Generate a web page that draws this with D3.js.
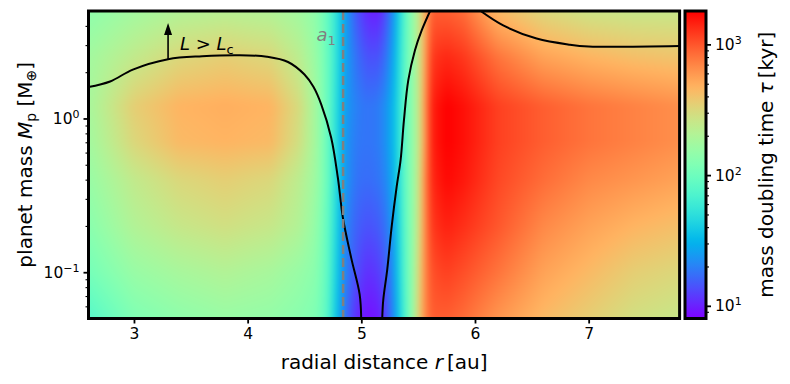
<!DOCTYPE html>
<html>
<head>
<meta charset="utf-8">
<script src="https://cdn.jsdelivr.net/npm/d3@7"></script>
<style>
  body { margin: 0; background: #fff; }
  svg { display: block; font-family: "DejaVu Sans", sans-serif; }
</style>
</head>
<body>
<div id="chart"></div>
<script>
// grid: radial distance [au], planet mass [M_earth], doubling time [kyr]
var radii = [2.6, 3.0, 3.4, 3.8, 4.2, 4.45, 4.6, 4.7, 4.78, 4.86, 4.95, 5.05, 5.15, 5.23, 5.3, 5.37, 5.44, 5.5, 5.56, 5.62, 5.75, 5.9, 6.2, 6.6, 7.0, 7.4, 7.8];
var masses = [0.05, 0.1, 0.2, 0.4, 0.7, 1.2, 2.5, 5];
var tauGrid = [
  [78, 120, 141, 157, 149, 134, 120, 82, 36, 18, 11, 8.9, 9.4, 14, 26, 63, 134, 318, 679, 939, 939, 843, 609, 440, 354, 285, 256],
  [108, 157, 185, 206, 185, 157, 134, 87, 41, 20, 14, 11, 12, 16, 29, 70, 134, 285, 679, 1046, 1166, 1046, 798, 546, 440, 354, 318],
  [134, 206, 256, 285, 256, 206, 149, 91, 45, 21, 16, 14, 15, 19, 31, 74, 134, 256, 679, 1230, 1448, 1299, 991, 679, 546, 464, 417],
  [157, 243, 318, 354, 318, 230, 166, 97, 48, 24, 18, 17, 18, 22, 35, 78, 134, 243, 679, 1371, 1703, 1528, 1104, 843, 679, 609, 546],
  [175, 318, 440, 464, 440, 285, 175, 97, 48, 24, 19, 18, 19, 24, 37, 78, 134, 230, 609, 1448, 1800, 1613, 1166, 939, 798, 716, 643],
  [185, 354, 464, 490, 464, 301, 175, 97, 50, 25, 20, 18, 19, 24, 37, 78, 134, 230, 609, 1448, 1800, 1613, 1166, 939, 798, 716, 643],
  [175, 243, 318, 354, 318, 230, 157, 97, 53, 26, 18, 14, 14, 19, 33, 74, 134, 230, 546, 1230, 1371, 1230, 798, 546, 464, 417, 394],
  [141, 175, 206, 218, 206, 175, 141, 91, 53, 26, 15, 10.5, 9.9, 15, 29, 70, 134, 230, 490, 939, 939, 843, 440, 318, 270, 256, 256]
];

// L = Lc contour pieces [r, Mp]
var contourLeft = [[2.6, 1.6], [2.79, 1.74], [2.99, 2.08], [3.3, 2.43], [3.6, 2.54], [3.93, 2.58], [4.17, 2.52], [4.355, 2.33],
  [4.5, 1.93], [4.58, 1.6], [4.648, 1.23], [4.735, 0.75], [4.794, 0.41], [4.838, 0.226], [4.911, 0.124], [4.985, 0.072], [4.999, 0.05]];
var contourRight = [[5.184, 0.05], [5.193, 0.066], [5.228, 0.104], [5.267, 0.198], [5.311, 0.36], [5.346, 0.54], [5.375, 0.975],
  [5.413, 1.77], [5.472, 2.78], [5.531, 3.74], [5.605, 5]];
var contourTop = [[6.05, 5], [6.248, 4.03], [6.542, 3.31], [6.835, 3.02], [7.0, 2.94], [7.8, 2.96]];

var a1 = 4.84;
var xTicks = [3, 4, 5, 6, 7];
var yTicks = [0.1, 1];
var yMinor = [0.06, 0.07, 0.08, 0.09, 0.2, 0.3, 0.4, 0.5, 0.6, 0.7, 0.8, 0.9, 2, 3, 4];
var cTicks = [10, 100, 1000];
var cMinor = [9, 20, 30, 40, 50, 60, 70, 80, 90, 200, 300, 400, 500, 600, 700, 800, 900];


// matplotlib "rainbow"
function rainbow(t) {
  var r = Math.min(1, Math.abs(2 * t - 0.5));
  var g = Math.sin(Math.PI * t);
  var b = Math.max(0, Math.cos(Math.PI * t / 2));
  return d3.rgb(255 * r, 255 * g, 255 * b).toString();
}

var plot = { left: 88.5, right: 679.6, top: 11, bottom: 318.5 };
var cbar = { left: 685, right: 706 };

var x = d3.scaleLinear().domain([2.6, 7.8]).range([plot.left, plot.right]);
var y = d3.scaleLog().domain([0.05, 5]).range([plot.bottom, plot.top]);
var cy = d3.scaleLog().domain([8, 1800]).range([plot.bottom, plot.top]);
var color = d3.scaleSequentialLog(rainbow).domain([8, 1800]).clamp(true);

var svg = d3.select('#chart')
  .append('svg')
  .attr('width', 790)
  .attr('height', 384);

var defs = svg.append('defs');
defs.append('clipPath').attr('id', 'plotClip')
  .append('rect')
  .attr('x', plot.left).attr('y', plot.top)
  .attr('width', plot.right - plot.left).attr('height', plot.bottom - plot.top);


// Heatmap - bilinear in (r, log M, log tau), softened with a small blur
var logM = masses.map(Math.log10);
var logTau = tauGrid.map(function (row) { return row.map(Math.log10); });

function sample(r, lm) {
  var i = Math.max(0, Math.min(radii.length - 2, d3.bisectRight(radii, r) - 1));
  var j = Math.max(0, Math.min(logM.length - 2, d3.bisectRight(logM, lm) - 1));
  var fx = Math.max(0, Math.min(1, (r - radii[i]) / (radii[i + 1] - radii[i])));
  var fy = Math.max(0, Math.min(1, (lm - logM[j]) / (logM[j + 1] - logM[j])));
  var lo = logTau[j][i] * (1 - fx) + logTau[j][i + 1] * fx;
  var hi = logTau[j + 1][i] * (1 - fx) + logTau[j + 1][i + 1] * fx;
  return Math.pow(10, lo * (1 - fy) + hi * fy);
}

var cw = Math.round(plot.right - plot.left), ch = Math.round(plot.bottom - plot.top);
var pad = 12;
var raw = document.createElement('canvas');
raw.width = cw + 2 * pad; raw.height = ch + 2 * pad;
var rctx = raw.getContext('2d');
var img = rctx.createImageData(raw.width, raw.height);
for (var py = 0; py < raw.height; py++) {
  var yy = Math.max(plot.top, Math.min(plot.bottom, plot.top + (py - pad + 0.5) * (plot.bottom - plot.top) / ch));
  var lm = Math.log10(y.invert(yy));
  for (var px = 0; px < raw.width; px++) {
    var xx = Math.max(plot.left, Math.min(plot.right, plot.left + (px - pad + 0.5) * (plot.right - plot.left) / cw));
    var c = d3.rgb(color(sample(x.invert(xx), lm)));
    var k = (py * raw.width + px) * 4;
    img.data[k] = c.r; img.data[k + 1] = c.g; img.data[k + 2] = c.b; img.data[k + 3] = 255;
  }
}
rctx.putImageData(img, 0, 0);

var canvas = document.createElement('canvas');
canvas.width = cw; canvas.height = ch;
var ctx = canvas.getContext('2d');
ctx.filter = 'blur(3px)';
ctx.drawImage(raw, -pad, -pad);

svg.append('image')
  .attr('x', plot.left).attr('y', plot.top)
  .attr('width', plot.right - plot.left).attr('height', plot.bottom - plot.top)
  .attr('preserveAspectRatio', 'none')
  .attr('href', canvas.toDataURL());


// Contours, a1 line, annotation
var gPlot = svg.append('g').attr('clip-path', 'url(#plotClip)');
var line = d3.line()
  .x(function (d) { return x(d[0]); })
  .y(function (d) { return y(d[1]); })
  .curve(d3.curveCatmullRom.alpha(0.5));

gPlot.selectAll('path.contour')
  .data([contourLeft, contourRight, contourTop])
  .enter()
  .append('path')
  .attr('class', 'contour')
  .attr('d', line)
  .attr('fill', 'none')
  .attr('stroke', '#000')
  .attr('stroke-width', 2);

gPlot.append('line')
  .attr('x1', x(a1)).attr('x2', x(a1))
  .attr('y1', plot.top).attr('y2', plot.bottom)
  .attr('stroke', '#808080')
  .attr('stroke-width', 2.5)
  .attr('stroke-dasharray', '9,4');

var a1Text = svg.append('text')
  .attr('x', x(4.775)).attr('y', y(3.2))
  .attr('text-anchor', 'end')
  .style('font-size', '18px')
  .attr('fill', '#808080');
a1Text.append('tspan').style('font-style', 'italic').text('a');
a1Text.append('tspan').attr('dy', 4).style('font-size', '13px').text('1');

// arrow L > Lc
var arrowX = x(3.3);
svg.append('line')
  .attr('x1', arrowX).attr('x2', arrowX)
  .attr('y1', y(2.43)).attr('y2', y(4.18) + 11)
  .attr('stroke', '#000').attr('stroke-width', 1.6);
svg.append('path')
  .attr('d', 'M' + (arrowX - 4) + ',' + (y(4.18) + 12) + 'L' + arrowX + ',' + y(4.18) + 'L' + (arrowX + 4) + ',' + (y(4.18) + 12) + 'Z')
  .attr('fill', '#000');

var lText = svg.append('text')
  .attr('x', x(3.405)).attr('y', y(2.78))
  .style('font-size', '18px');
lText.append('tspan').style('font-style', 'italic').text('L');
lText.append('tspan').text(' > ');
lText.append('tspan').style('font-style', 'italic').text('L');
lText.append('tspan').attr('dy', 4).style('font-size', '13px').text('c');


// Frame
svg.append('rect')
  .attr('x', plot.left).attr('y', plot.top)
  .attr('width', plot.right - plot.left).attr('height', plot.bottom - plot.top)
  .attr('fill', 'none').attr('stroke', '#000').attr('stroke-width', 3);


// Axes
function supLabel(sel) {
  sel.each(function (d) {
    var e = Math.round(Math.log10(d));
    var t = d3.select(this).text('');
    t.append('tspan').text('10');
    t.append('tspan').attr('dy', '-0.55em').style('font-size', '11px').text(e < 0 ? '\u2212' + (-e) : e);
  });
}

function styleAxis(g, width) {
  g.select('.domain').remove();
  g.selectAll('.tick line').attr('stroke', '#000').attr('stroke-width', width);
  g.selectAll('.tick text').attr('fill', '#000').style('font-size', '15.5px').style('font-family', '"DejaVu Sans", sans-serif');
}

var gx = svg.append('g')
  .attr('transform', 'translate(0,' + plot.bottom + ')')
  .call(d3.axisBottom(x).tickValues(xTicks).tickSize(5).tickPadding(4).tickFormat(d3.format('d')));
styleAxis(gx, 1.8);

var gy = svg.append('g')
  .attr('transform', 'translate(' + plot.left + ',0)')
  .call(d3.axisLeft(y).tickValues(yTicks).tickSize(5).tickPadding(4));
styleAxis(gy, 1.8);
gy.selectAll('.tick text').call(supLabel);

var gyMinor = svg.append('g')
  .attr('transform', 'translate(' + plot.left + ',0)')
  .call(d3.axisLeft(y).tickValues(yMinor).tickSize(3).tickFormat(''));
styleAxis(gyMinor, 1.1);


// Colorbar
var grad = defs.append('linearGradient')
  .attr('id', 'cbarGrad')
  .attr('x1', 0).attr('y1', 1).attr('x2', 0).attr('y2', 0);
grad.selectAll('stop')
  .data(d3.range(0, 1.0001, 0.02))
  .enter()
  .append('stop')
  .attr('offset', function (d) { return d; })
  .attr('stop-color', function (d) { return rainbow(d); });

svg.append('rect')
  .attr('x', cbar.left).attr('y', plot.top)
  .attr('width', cbar.right - cbar.left).attr('height', plot.bottom - plot.top)
  .attr('fill', 'url(#cbarGrad)')
  .attr('stroke', '#000').attr('stroke-width', 3);

var gc = svg.append('g')
  .attr('transform', 'translate(' + cbar.right + ',0)')
  .call(d3.axisRight(cy).tickValues(cTicks).tickSize(5).tickPadding(4));
styleAxis(gc, 1.8);
gc.selectAll('.tick text').call(supLabel);

var gcMinor = svg.append('g')
  .attr('transform', 'translate(' + cbar.right + ',0)')
  .call(d3.axisRight(cy).tickValues(cMinor).tickSize(3).tickFormat(''));
styleAxis(gcMinor, 1.1);


// Axis labels
var xLabel = svg.append('text')
  .attr('x', (plot.left + plot.right) / 2).attr('y', 369)
  .attr('text-anchor', 'middle')
  .style('font-size', '20px');
xLabel.append('tspan').text('radial distance ');
xLabel.append('tspan').style('font-style', 'italic').text('r');
xLabel.append('tspan').text('\u2009[au]');

var yLabel = svg.append('text')
  .attr('transform', 'translate(32,' + (plot.top + plot.bottom) / 2 + ') rotate(-90)')
  .attr('text-anchor', 'middle')
  .style('font-size', '20px');
yLabel.append('tspan').text('planet mass ');
yLabel.append('tspan').style('font-style', 'italic').text('M');
yLabel.append('tspan').attr('dy', 4).style('font-size', '14px').text('p');
yLabel.append('tspan').attr('dy', -4).text(' [M');
yLabel.append('tspan').attr('dy', 4).style('font-size', '14px').text('\u2295');
yLabel.append('tspan').attr('dy', -4).text(']');

var cLabel = svg.append('text')
  .attr('transform', 'translate(773,' + (plot.top + plot.bottom) / 2 + ') rotate(-90)')
  .attr('text-anchor', 'middle')
  .style('font-size', '20px');
cLabel.append('tspan').text('mass doubling time ');
cLabel.append('tspan').style('font-style', 'italic').text('\u03c4');
cLabel.append('tspan').text('\u2009[kyr]');
</script>
</body>
</html>
